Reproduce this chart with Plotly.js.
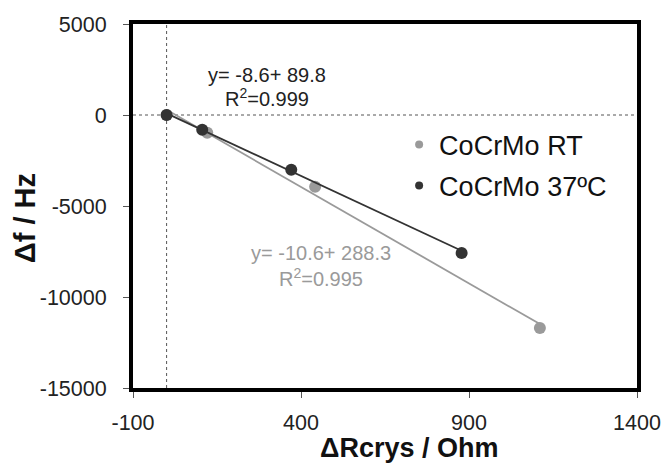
<!DOCTYPE html>
<html>
<head>
<meta charset="utf-8">
<script src="https://cdn.plot.ly/plotly-3.0.1.min.js"></script>
<style>html,body{margin:0;padding:0;background:#fff;}#chart{width:666px;height:467px;}</style>
</head>
<body>
<div id="chart"></div>
<script>
// Data
const seriesNames = ["CoCrMo RT", "CoCrMo 37ºC"];
const rtX = [0, 121, 442, 1111];
const rtY = [0, -979, -3948, -11702];
const hotX = [0, 106, 371, 878];
const hotY = [0, -814, -3013, -7577];
// Linear fits printed on the chart
const rtSlope = -10.6, rtIntercept = 288.3, rtR2 = "0.995";
const hotSlope = -8.6, hotIntercept = 89.8, hotR2 = "0.999";
const xTicks = [-100, 400, 900, 1400];
const yTicks = [5000, 0, -5000, -10000, -15000];
const xTitle = "ΔRcrys / Ohm", yTitle = "Δf / Hz";

const light = "#9a9a9a", dark = "#333333";
const font = "Liberation Sans, Arial, sans-serif";

function fitLine(xs, m, b) {
  const x0 = Math.min(...xs), x1 = Math.max(...xs);
  return {x: [x0, x1], y: [m * x0 + b, m * x1 + b]};
}
const rtFit = fitLine(rtX, rtSlope, rtIntercept);
const hotFit = fitLine(hotX, hotSlope, hotIntercept);

const traces = [
  {x: rtFit.x, y: rtFit.y, mode: "lines", line: {color: light, width: 1.8}, showlegend: false, hoverinfo: "skip"},
  {x: rtX, y: rtY, mode: "markers", marker: {color: light, size: 12}, showlegend: false},
  {x: hotFit.x, y: hotFit.y, mode: "lines", line: {color: dark, width: 1.8}, showlegend: false, hoverinfo: "skip"},
  {x: hotX, y: hotY, mode: "markers", marker: {color: dark, size: 12}, showlegend: false},
  {x: [null], y: [null], mode: "markers", name: seriesNames[0], marker: {color: light, size: 8}, legendgroup: "a"},
  {x: [null], y: [null], mode: "markers", name: seriesNames[1], marker: {color: dark, size: 8}, legendgroup: "b"}
];

const layout = {
  width: 666, height: 467,
  margin: {l: 133, r: 29, t: 24, b: 79},
  paper_bgcolor: "#fff", plot_bgcolor: "#fff",
  font: {family: font, color: "#222"},
  showlegend: true,
  legend: {x: 0.528, y: 0.735, xanchor: "left", yanchor: "top", font: {size: 27, color: "#111", family: font},
           bgcolor: "rgba(0,0,0,0)", traceorder: "grouped", tracegroupgap: 3},
  xaxis: {
    range: [-100, 1400], tickvals: xTicks, ticktext: xTicks.map(String),
    showgrid: false, zeroline: false, showline: true, linewidth: 4, linecolor: "#000", mirror: true,
    ticks: "outside", ticklen: 6, tickwidth: 1, tickcolor: "#555",
    tickfont: {size: 21.5, color: "#222", family: font}, ticklabelstandoff: 6
  },
  yaxis: {
    range: [-15000, 5000], tickvals: yTicks, ticktext: yTicks.map(String),
    showgrid: false, zeroline: false, showline: true, linewidth: 4, linecolor: "#000", mirror: true,
    ticks: "outside", ticklen: 6, tickwidth: 1, tickcolor: "#555",
    tickfont: {size: 21.5, color: "#222", family: font}, ticklabelstandoff: 12
  },
  shapes: [
    {type: "line", xref: "x", yref: "paper", x0: 0, x1: 0, y0: 0, y1: 1, line: {color: "#555", width: 1, dash: "dot"}, layer: "below"},
    {type: "line", xref: "paper", yref: "y", x0: 0, x1: 1, y0: 0, y1: 0, line: {color: "#555", width: 1, dash: "dot"}, layer: "below"}
  ],
  annotations: [
    {x: 0.548, y: -0.166, xref: "paper", yref: "paper", xanchor: "center", yanchor: "middle", showarrow: false, text: "<b>" + xTitle + "</b>", font: {size: 27, color: "#111", family: font}},
    {x: -0.214, y: 0.467, xref: "paper", yref: "paper", xanchor: "center", yanchor: "middle", showarrow: false, textangle: -90, text: "<b>" + yTitle + "</b>", font: {size: 29, color: "#111", family: font}},
    {x: 298, y: 2210, xref: "x", yref: "y", showarrow: false, text: "y= " + hotSlope + "+ " + hotIntercept, font: {size: 20, color: "#222", family: font}},
    {x: 298, y: 946, xref: "x", yref: "y", showarrow: false, text: "R<sup>2</sup>=" + hotR2, font: {size: 20, color: "#222", family: font}},
    {x: 460, y: -7580, xref: "x", yref: "y", showarrow: false, text: "y= " + rtSlope + "+ " + rtIntercept, font: {size: 20, color: light, family: font}},
    {x: 460, y: -8952, xref: "x", yref: "y", showarrow: false, text: "R<sup>2</sup>=" + rtR2, font: {size: 20, color: light, family: font}}
  ]
};

Plotly.newPlot("chart", traces, layout, {staticPlot: true, displayModeBar: false});
</script>
</body>
</html>
